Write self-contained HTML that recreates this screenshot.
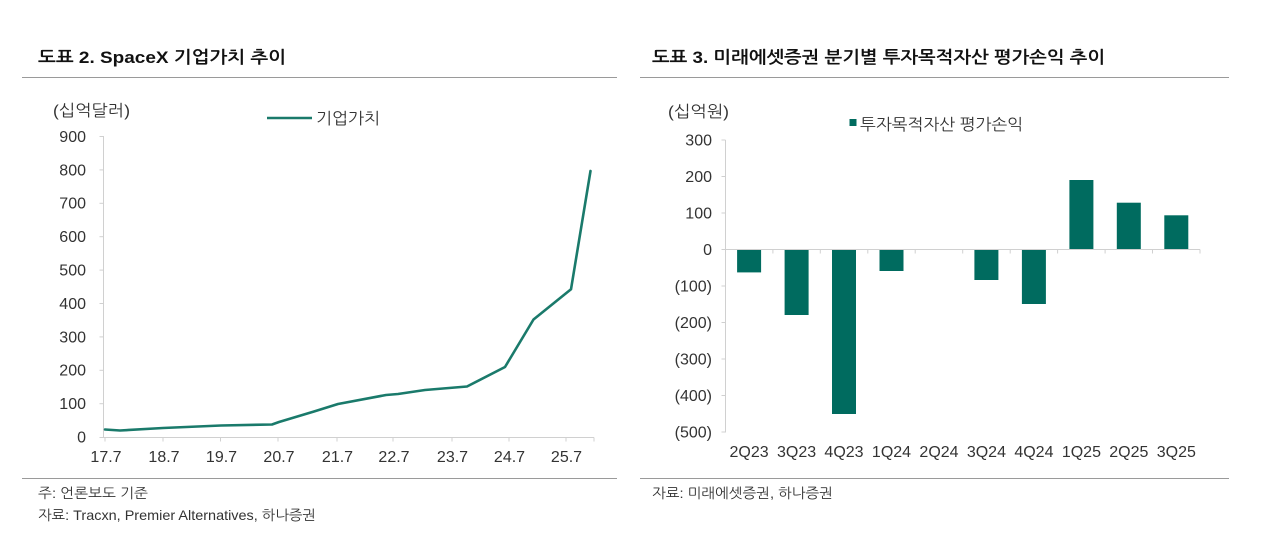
<!DOCTYPE html>
<html>
<head>
<meta charset="utf-8">
<style>
  html, body { margin:0; padding:0; background:#fff; }
  svg { display:block; }
  text { font-family: "Liberation Sans", "NanumGothic", "Noto Sans CJK KR", sans-serif; fill:#333; }
  .title { font-size:17px; font-weight:bold; fill:#111; }
  .lab { font-size:16px; }
  .note { font-size:14px; }
</style>
</head>
<body>
<svg width="1280" height="551" viewBox="0 0 1280 551" xmlns="http://www.w3.org/2000/svg">
  <rect width="1280" height="551" fill="#fff"/>

  <!-- ===== LEFT CHART ===== -->
  <text class="title" x="38" y="63" textLength="248" lengthAdjust="spacingAndGlyphs">도표 2. SpaceX 기업가치 추이</text>
  <line x1="22" y1="77.5" x2="617" y2="77.5" stroke="#9a9a9a" stroke-width="1"/>

  <text class="lab" x="53" y="116" textLength="77" lengthAdjust="spacingAndGlyphs">(십억달러)</text>

  <!-- legend -->
  <line x1="267" y1="118" x2="312" y2="118" stroke="#1a7a6b" stroke-width="2.5"/>
  <text class="lab" x="316" y="124" textLength="64" lengthAdjust="spacingAndGlyphs">기업가치</text>

  <!-- y labels -->
  <g class="lab" text-anchor="end">
    <text x="86" y="442.5">0</text>
    <text x="86" y="409">100</text>
    <text x="86" y="375.7">200</text>
    <text x="86" y="342.3">300</text>
    <text x="86" y="308.9">400</text>
    <text x="86" y="275.5">500</text>
    <text x="86" y="242.1">600</text>
    <text x="86" y="208.7">700</text>
    <text x="86" y="175.3">800</text>
    <text x="86" y="141.9">900</text>
  </g>
  <!-- axes -->
  <g stroke="#d0d0d0" stroke-width="1">
    <line x1="103.5" y1="136" x2="103.5" y2="437.5"/>
    <line x1="99.5" y1="136.5" x2="103.5" y2="136.5"/>
    <line x1="99.5" y1="169.9" x2="103.5" y2="169.9"/>
    <line x1="99.5" y1="203.3" x2="103.5" y2="203.3"/>
    <line x1="99.5" y1="236.7" x2="103.5" y2="236.7"/>
    <line x1="99.5" y1="270.1" x2="103.5" y2="270.1"/>
    <line x1="99.5" y1="303.5" x2="103.5" y2="303.5"/>
    <line x1="99.5" y1="336.9" x2="103.5" y2="336.9"/>
    <line x1="99.5" y1="370.3" x2="103.5" y2="370.3"/>
    <line x1="99.5" y1="403.7" x2="103.5" y2="403.7"/>
    <line x1="99.5" y1="437.5" x2="103.5" y2="437.5"/>
    <line x1="103" y1="437.5" x2="594" y2="437.5"/>
    <line x1="105" y1="437.5" x2="105" y2="441.5"/>
    <line x1="163" y1="437.5" x2="163" y2="441.5"/>
    <line x1="220.5" y1="437.5" x2="220.5" y2="441.5"/>
    <line x1="278" y1="437.5" x2="278" y2="441.5"/>
    <line x1="337" y1="437.5" x2="337" y2="441.5"/>
    <line x1="393" y1="437.5" x2="393" y2="441.5"/>
    <line x1="452" y1="437.5" x2="452" y2="441.5"/>
    <line x1="509" y1="437.5" x2="509" y2="441.5"/>
    <line x1="566" y1="437.5" x2="566" y2="441.5"/>
    <line x1="594" y1="437.5" x2="594" y2="441.5"/>
  </g>
  <!-- x labels -->
  <g class="lab" text-anchor="middle">
    <text x="106" y="462">17.7</text>
    <text x="164" y="462">18.7</text>
    <text x="221.5" y="462">19.7</text>
    <text x="279" y="462">20.7</text>
    <text x="337.5" y="462">21.7</text>
    <text x="394" y="462">22.7</text>
    <text x="452.5" y="462">23.7</text>
    <text x="509.5" y="462">24.7</text>
    <text x="566.5" y="462">25.7</text>
  </g>
  <!-- series -->
  <polyline fill="none" stroke="#1a7a6b" stroke-width="2.6" stroke-linejoin="round" stroke-linecap="round"
    points="105,429.5 120,430.5 163,428 221,425.5 272,424.5 279,422 314,411.5 338,404 386,395 398,394 425,390 467,386.5 505,367 533.5,319.5 571,289.3 590.5,171"/>

  <line x1="22" y1="478.5" x2="617" y2="478.5" stroke="#9a9a9a" stroke-width="1"/>
  <text class="note" x="38" y="498" textLength="110" lengthAdjust="spacingAndGlyphs">주: 언론보도 기준</text>
  <text class="note" x="38" y="520" textLength="278" lengthAdjust="spacingAndGlyphs">자료: Tracxn, Premier Alternatives, 하나증권</text>

  <!-- ===== RIGHT CHART ===== -->
  <text class="title" x="652" y="63" textLength="453" lengthAdjust="spacingAndGlyphs">도표 3. 미래에셋증권 분기별 투자목적자산 평가손익 추이</text>
  <line x1="640" y1="77.5" x2="1229" y2="77.5" stroke="#9a9a9a" stroke-width="1"/>

  <text class="lab" x="668" y="117" textLength="61" lengthAdjust="spacingAndGlyphs">(십억원)</text>

  <rect x="849.5" y="119" width="7" height="7" fill="#006b5f"/>
  <text class="lab" x="860" y="130" textLength="163" lengthAdjust="spacingAndGlyphs">투자목적자산 평가손익</text>

  <g class="lab" text-anchor="end">
    <text x="712" y="145.5">300</text>
    <text x="712" y="182">200</text>
    <text x="712" y="218.5">100</text>
    <text x="712" y="255">0</text>
    <text x="712" y="291.5">(100)</text>
    <text x="712" y="328">(200)</text>
    <text x="712" y="364.5">(300)</text>
    <text x="712" y="401">(400)</text>
    <text x="712" y="437.5">(500)</text>
  </g>

  <!-- bars -->
  <g fill="#006b5f">
    <rect x="737.1" y="249" width="24" height="23.4"/>
    <rect x="784.6" y="249" width="24" height="66"/>
    <rect x="832" y="249" width="24" height="165"/>
    <rect x="879.5" y="249" width="24" height="22"/>
    <rect x="974.4" y="249" width="24" height="31"/>
    <rect x="1021.9" y="249" width="24" height="55"/>
    <rect x="1069.4" y="180" width="24" height="69"/>
    <rect x="1116.8" y="202.7" width="24" height="46.3"/>
    <rect x="1164.3" y="215.3" width="24" height="33.7"/>
  </g>

  <g stroke="#d0d0d0" stroke-width="1">
    <line x1="725.5" y1="140" x2="725.5" y2="432.5"/>
    <line x1="721.5" y1="140" x2="725.5" y2="140"/>
    <line x1="721.5" y1="176.5" x2="725.5" y2="176.5"/>
    <line x1="721.5" y1="213" x2="725.5" y2="213"/>
    <line x1="721.5" y1="249.5" x2="725.5" y2="249.5"/>
    <line x1="721.5" y1="286" x2="725.5" y2="286"/>
    <line x1="721.5" y1="322.5" x2="725.5" y2="322.5"/>
    <line x1="721.5" y1="359" x2="725.5" y2="359"/>
    <line x1="721.5" y1="395.5" x2="725.5" y2="395.5"/>
    <line x1="721.5" y1="432" x2="725.5" y2="432"/>
    <line x1="725" y1="249.5" x2="1200" y2="249.5"/>
    <line x1="772.9" y1="249.5" x2="772.9" y2="253.5"/>
    <line x1="820.3" y1="249.5" x2="820.3" y2="253.5"/>
    <line x1="867.8" y1="249.5" x2="867.8" y2="253.5"/>
    <line x1="915.2" y1="249.5" x2="915.2" y2="253.5"/>
    <line x1="962.7" y1="249.5" x2="962.7" y2="253.5"/>
    <line x1="1010.2" y1="249.5" x2="1010.2" y2="253.5"/>
    <line x1="1057.6" y1="249.5" x2="1057.6" y2="253.5"/>
    <line x1="1105.1" y1="249.5" x2="1105.1" y2="253.5"/>
    <line x1="1152.5" y1="249.5" x2="1152.5" y2="253.5"/>
    <line x1="1200" y1="249.5" x2="1200" y2="253.5"/>
  </g>

  <g class="lab" text-anchor="middle">
    <text x="749.1" y="457">2Q23</text>
    <text x="796.6" y="457">3Q23</text>
    <text x="844" y="457">4Q23</text>
    <text x="891.5" y="457">1Q24</text>
    <text x="939" y="457">2Q24</text>
    <text x="986.4" y="457">3Q24</text>
    <text x="1033.9" y="457">4Q24</text>
    <text x="1081.4" y="457">1Q25</text>
    <text x="1128.8" y="457">2Q25</text>
    <text x="1176.3" y="457">3Q25</text>
  </g>

  <line x1="640" y1="478.5" x2="1229" y2="478.5" stroke="#9a9a9a" stroke-width="1"/>
  <text class="note" x="652" y="498" textLength="181" lengthAdjust="spacingAndGlyphs">자료: 미래에셋증권, 하나증권</text>
</svg>
</body>
</html>
